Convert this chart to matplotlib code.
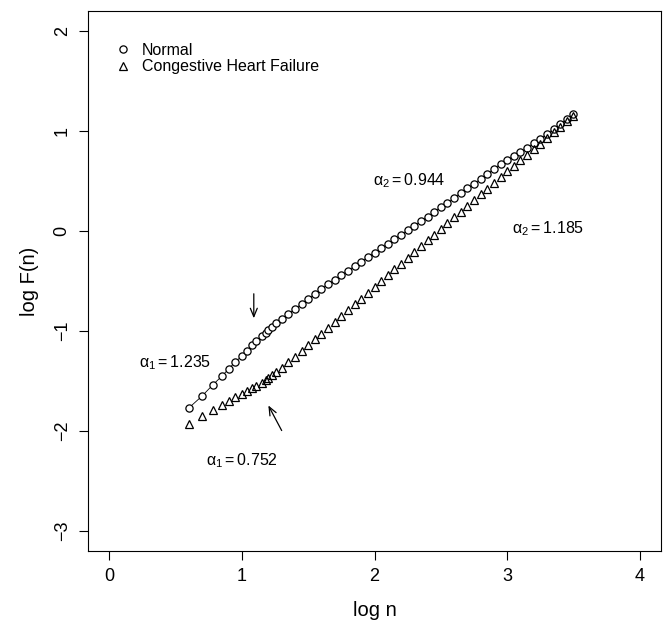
import matplotlib
matplotlib.use("Agg")
import matplotlib.pyplot as plt

plt.rcParams['font.family'] = ['Liberation Sans', 'DejaVu Sans']
plt.rcParams['mathtext.fontset'] = 'custom'
plt.rcParams['mathtext.rm'] = 'Liberation Sans'
plt.rcParams['mathtext.it'] = 'Liberation Sans'
plt.rcParams['mathtext.default'] = 'regular'

# log n (одинаковые для обеих групп)
log_n = [0.60, 0.70, 0.78, 0.85, 0.90, 0.95, 1.00, 1.04, 1.08, 1.11, 1.15, 1.18, 1.20, 1.23, 1.26,
         1.30, 1.35, 1.40, 1.45, 1.50, 1.55, 1.60, 1.65, 1.70, 1.75, 1.80, 1.85, 1.90, 1.95, 2.00,
         2.05, 2.10, 2.15, 2.20, 2.25, 2.30, 2.35, 2.40, 2.45, 2.50, 2.55, 2.60, 2.65, 2.70, 2.75,
         2.80, 2.85, 2.90, 2.95, 3.00, 3.05, 3.10, 3.15, 3.20, 3.25, 3.30, 3.35, 3.40, 3.45, 3.50]

# log F(n), Normal
normal = [-1.77, -1.65, -1.54, -1.45, -1.38, -1.31, -1.25, -1.20, -1.14, -1.10, -1.05, -1.02, -0.99, -0.96, -0.92,
          -0.88, -0.83, -0.78, -0.73, -0.68, -0.63, -0.58, -0.53, -0.49, -0.44, -0.40, -0.35, -0.31, -0.26, -0.22,
          -0.17, -0.13, -0.08, -0.04, 0.01, 0.05, 0.10, 0.14, 0.19, 0.24, 0.28, 0.33, 0.38, 0.43, 0.47,
          0.52, 0.57, 0.62, 0.67, 0.71, 0.75, 0.79, 0.83, 0.88, 0.92, 0.97, 1.02, 1.07, 1.12, 1.17]

# log F(n), Congestive Heart Failure
chf = [-1.93, -1.85, -1.79, -1.74, -1.70, -1.66, -1.63, -1.60, -1.57, -1.55, -1.52, -1.49, -1.47, -1.44, -1.41,
       -1.37, -1.31, -1.26, -1.20, -1.14, -1.08, -1.03, -0.97, -0.91, -0.85, -0.79, -0.73, -0.68, -0.62, -0.56,
       -0.50, -0.44, -0.38, -0.33, -0.27, -0.21, -0.15, -0.09, -0.04, 0.02, 0.08, 0.14, 0.19, 0.25, 0.31,
       0.37, 0.42, 0.48, 0.54, 0.60, 0.65, 0.71, 0.76, 0.82, 0.87, 0.93, 0.99, 1.04, 1.10, 1.15]

x_ticks = [0, 1, 2, 3, 4]
y_ticks = [-3, -2, -1, 0, 1, 2]

fig = plt.figure(figsize=(6.68, 6.23), dpi=100)
ax = fig.add_axes([88 / 668, 72 / 623, 573 / 668, 540 / 623])

ax.plot(log_n, normal, '-', color='black', lw=0.6, zorder=2)
ax.plot(log_n, normal, 'o', ls='none', mfc='white', mec='black', mew=0.9, ms=5.2,
        label='Normal', zorder=3)
ax.plot(log_n, chf, '^', ls='none', mfc='none', mec='black', mew=0.9, ms=5.8,
        label='Congestive Heart Failure', zorder=3)

ax.set_xlim(-0.16, 4.16)
ax.set_ylim(-3.2, 2.2)
ax.set_xticks(x_ticks)
ax.set_yticks(y_ticks)
ax.set_xticklabels([str(v) for v in x_ticks])
ax.set_yticklabels([str(v).replace('-', '\u2212') for v in y_ticks])
ax.tick_params(direction='out', length=6.5, width=0.8, labelsize=13, pad=6)
ax.tick_params(axis='y', labelrotation=90)
for t in ax.get_yticklabels():
    t.set_va('center')
for s in ax.spines.values():
    s.set_linewidth(0.8)

ax.set_xlabel('log n', fontsize=14.5, va='center')
ax.set_ylabel('log F(n)', fontsize=14.5, va='center')
ax.xaxis.set_label_coords(0.5, -59 / 540)
ax.yaxis.set_label_coords(-59 / 573, 0.5)

ax.legend(loc='upper left', bbox_to_anchor=(0.036, 0.953), frameon=False, fontsize=11.5,
          handlelength=1.0, handletextpad=0.7, labelspacing=0.1, borderaxespad=0)

# подписи показателей
ax.text(0.50, -1.32, r'$\alpha_1 = 1.235$', fontsize=11.5, ha='center', va='center')
ax.text(1.00, -2.30, r'$\alpha_1 = 0.752$', fontsize=11.5, ha='center', va='center')
ax.text(2.26, 0.50, r'$\alpha_2 = 0.944$', fontsize=11.5, ha='center', va='center')
ax.text(3.31, 0.02, r'$\alpha_2 = 1.185$', fontsize=11.5, ha='center', va='center')

arrow = dict(arrowstyle='->,head_length=0.6,head_width=0.25', color='black', lw=0.9)
ax.annotate('', xy=(1.09, -0.90), xytext=(1.09, -0.60), arrowprops=arrow)
ax.annotate('', xy=(1.19, -1.72), xytext=(1.31, -2.02), arrowprops=arrow)

fig.savefig('out.png', dpi=100)
